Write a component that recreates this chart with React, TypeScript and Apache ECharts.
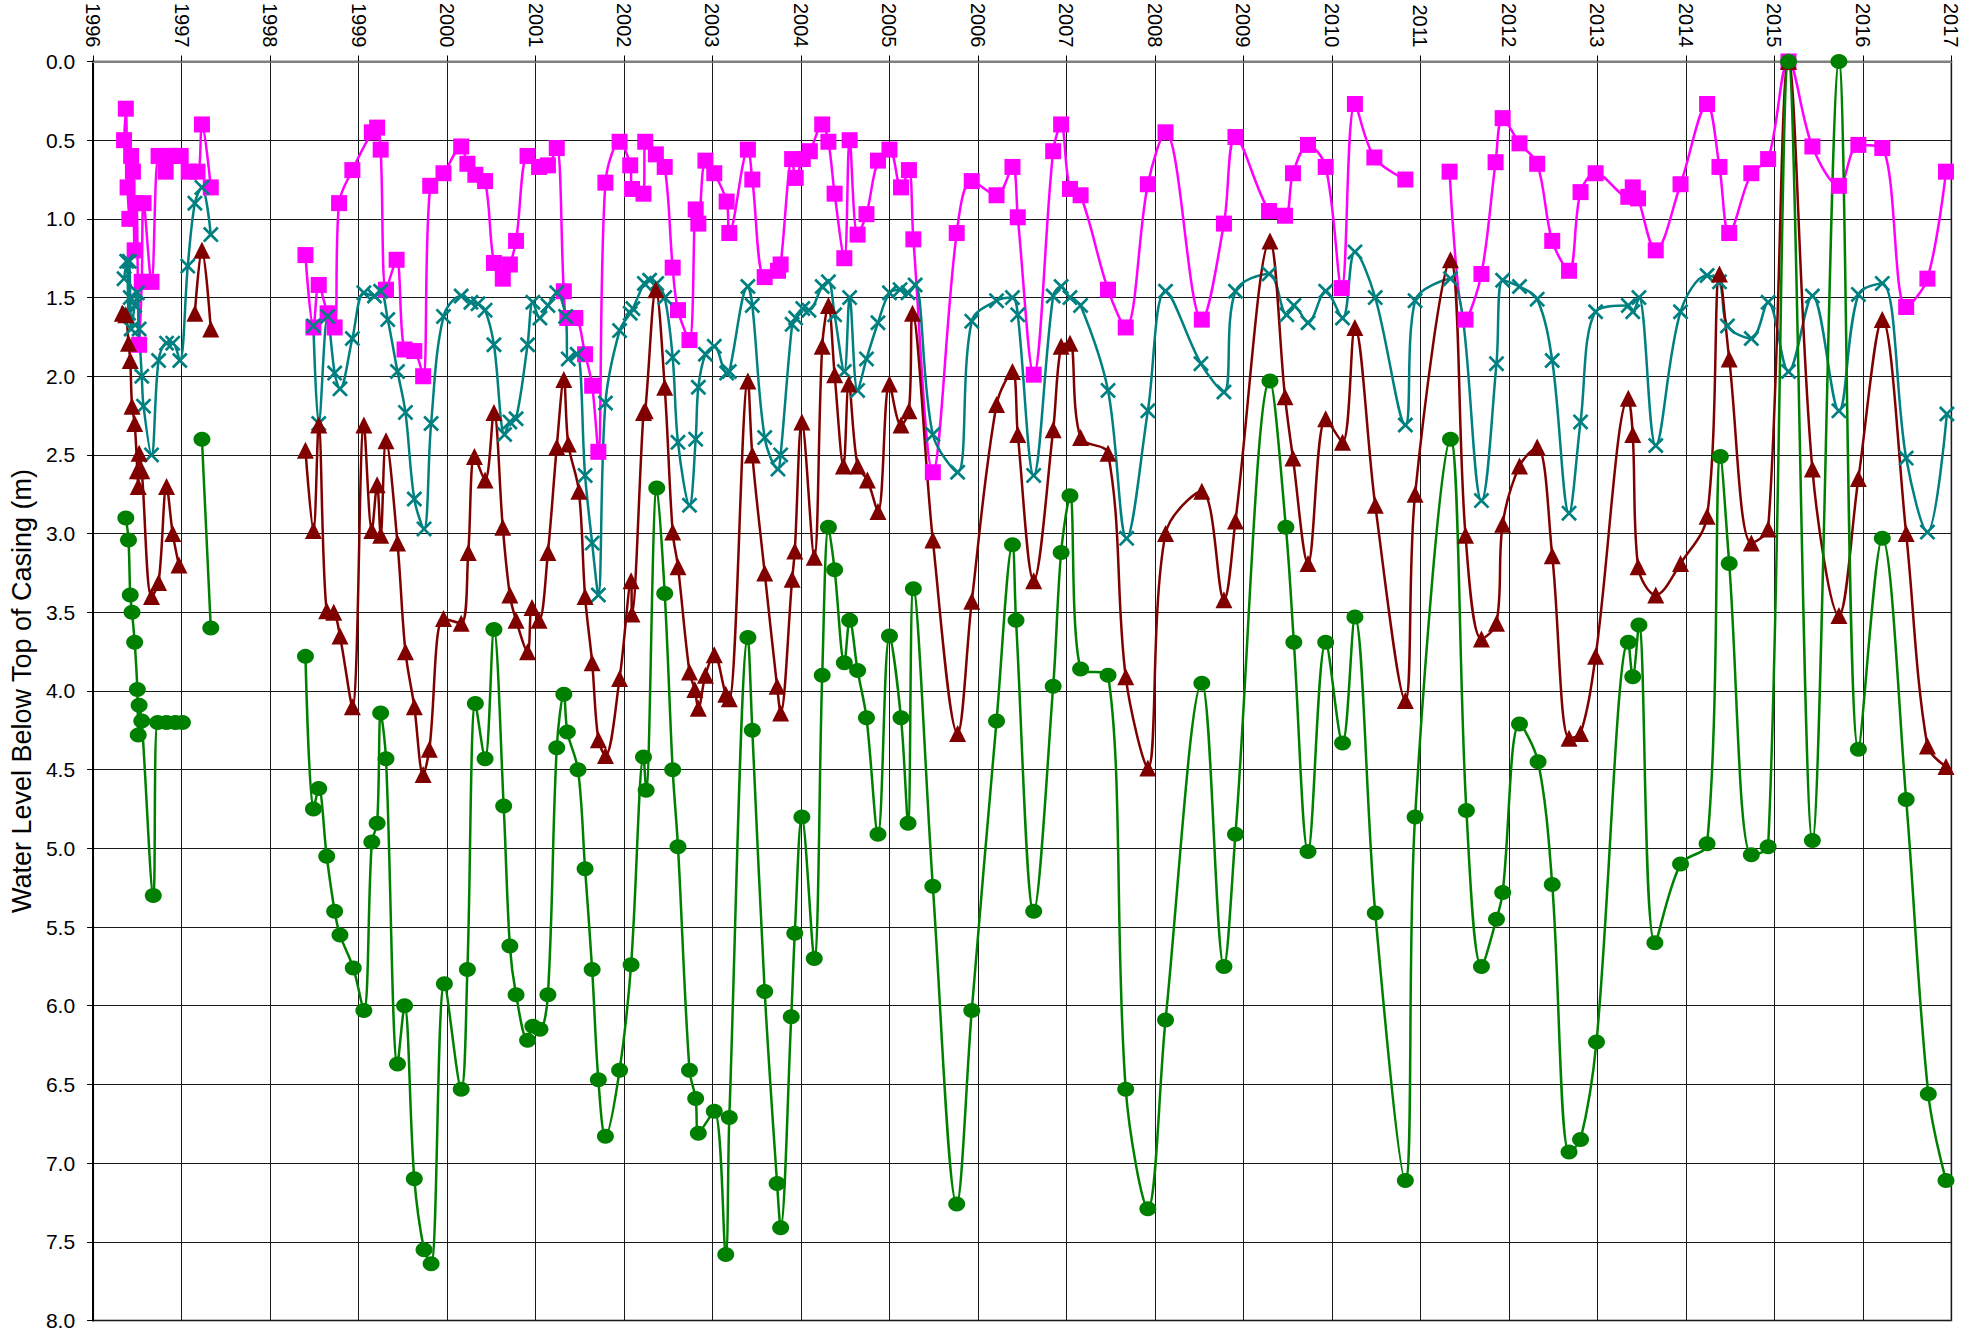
import React, { useEffect, useRef } from "react";
import * as echarts from "echarts";

// ---- Data (decimal year, water level below top of casing in m) ----
const pinkDates = [
  1996.35, 1996.37, 1996.39, 1996.41, 1996.43, 1996.45, 1996.47, 1996.49, 1996.52, 1996.55, 1996.57, 1996.66, 1996.74, 1996.82, 1996.86, 1996.93, 1996.99,
  1997.08, 1997.18, 1997.23, 1997.33, 1997.8,
  1998.40, 1998.49, 1998.55, 1998.65, 1998.73, 1998.78, 1998.93, 1999.15, 1999.21, 1999.25, 1999.31, 1999.43, 1999.52, 1999.63, 1999.73, 1999.81, 1999.96,
  2000.16, 2000.23, 2000.32, 2000.43, 2000.53, 2000.63, 2000.71, 2000.78, 2000.91, 2001.04, 2001.14, 2001.24, 2001.32, 2001.36, 2001.45, 2001.56, 2001.64, 2001.71, 2001.79, 2001.95,
  2002.07, 2002.09, 2002.22, 2002.24, 2002.36, 2002.46, 2002.55, 2002.61, 2002.74, 2002.81, 2002.84, 2002.92, 2003.02, 2003.16, 2003.19, 2003.40, 2003.45, 2003.59, 2003.74, 2003.77, 2003.90, 2003.94,
  2004.02, 2004.10, 2004.24, 2004.31, 2004.38, 2004.49, 2004.55, 2004.64, 2004.74, 2004.87, 2005.00, 2005.13, 2005.22, 2005.27, 2005.49, 2005.76, 2005.93,
  2006.21, 2006.39, 2006.45, 2006.63, 2006.85, 2006.94, 2007.04, 2007.16, 2007.47, 2007.67, 2007.92, 2008.12, 2008.53, 2008.78, 2008.91, 2009.29, 2009.47, 2009.56, 2009.73, 2009.93, 2010.11, 2010.26, 2010.48, 2010.83, 2011.1,
  2011.33, 2011.51, 2011.69, 2011.85, 2011.93, 2012.12, 2012.32, 2012.49, 2012.68, 2012.81, 2012.98, 2013.35, 2013.40, 2013.46, 2013.66, 2013.94, 2014.24, 2014.38, 2014.49, 2014.74, 2014.93, 2015.16, 2015.43, 2015.73, 2015.95, 2016.22, 2016.49, 2016.73, 2016.94,
];
const pinkLevels = [
  0.50, 0.30, 0.80, 1.00, 0.60, 0.70, 1.20, 0.90, 1.80, 1.40, 0.90, 1.40, 0.60, 0.70, 0.60, 0.60, 0.60,
  0.70, 0.70, 0.40, 0.80, null,
  1.23, 1.69, 1.42, 1.60, 1.69, 0.90, 0.69, 0.45, 0.42, 0.56, 1.45, 1.26, 1.83, 1.84, 2.00, 0.79, 0.71,
  0.54, 0.65, 0.72, 0.76, 1.28, 1.38, 1.29, 1.14, 0.60, 0.67, 0.66, 0.55, 1.46, 1.63, 1.63, 1.86, 2.06, 2.48, 0.77, 0.51,
  0.66, 0.81, 0.84, 0.51, 0.59, 0.67, 1.31, 1.58, 1.77, 0.94, 1.03, 0.63, 0.71, 0.89, 1.09, 0.56, 0.75, 1.37, 1.33, 1.29, 0.62, 0.74,
  0.62, 0.57, 0.40, 0.51, 0.84, 1.25, 0.50, 1.10, 0.97, 0.63, 0.56, 0.80, 0.69, 1.13, 2.61, 1.09, 0.76,
  0.85, 0.67, 0.99, 1.99, 0.57, 0.40, 0.81, 0.85, 1.45, 1.69, 0.78, 0.45, 1.64, 1.03, 0.48, 0.95, 0.98, 0.71, 0.53, 0.67, 1.44, 0.27, 0.61, 0.75, null,
  0.70, 1.64, 1.35, 0.64, 0.36, 0.52, 0.65, 1.14, 1.33, 0.83, 0.71, 0.86, 0.80, 0.87, 1.20, 0.78, 0.27, 0.67, 1.09, 0.71, 0.62, 0.00, 0.54, 0.79, 0.53, 0.55, 1.56, 1.38, 0.70,
];

const tealDates = [
  1996.35, 1996.38, 1996.40, 1996.41, 1996.42, 1996.43, 1996.47, 1996.50, 1996.52, 1996.55, 1996.57, 1996.66, 1996.74, 1996.83, 1996.90, 1996.98,
  1997.07, 1997.15, 1997.23, 1997.33, 1997.8,
  1998.49, 1998.55, 1998.65, 1998.73, 1998.79, 1998.93, 1999.06, 1999.18, 1999.25, 1999.33, 1999.44, 1999.53, 1999.63, 1999.74, 1999.82, 1999.96,
  2000.16, 2000.27, 2000.35, 2000.43, 2000.53, 2000.65, 2000.71, 2000.78, 2000.91, 2000.97, 2001.05, 2001.14, 2001.24, 2001.34, 2001.37, 2001.47, 2001.56, 2001.64, 2001.71, 2001.79, 2001.95,
  2002.07, 2002.10, 2002.23, 2002.29, 2002.37, 2002.46, 2002.55, 2002.61, 2002.74, 2002.81, 2002.84, 2002.92, 2003.02, 2003.16, 2003.19, 2003.40, 2003.45, 2003.59, 2003.74, 2003.77, 2003.90, 2003.94,
  2004.02, 2004.09, 2004.24, 2004.31, 2004.38, 2004.49, 2004.55, 2004.64, 2004.74, 2004.87, 2005.00, 2005.12, 2005.21, 2005.29, 2005.49, 2005.77, 2005.93,
  2006.21, 2006.39, 2006.45, 2006.63, 2006.85, 2006.94, 2007.04, 2007.16, 2007.47, 2007.68, 2007.92, 2008.12, 2008.52, 2008.78, 2008.91, 2009.29, 2009.49, 2009.57, 2009.73, 2009.93, 2010.12, 2010.26, 2010.49, 2010.83, 2010.94, 2011.34, 2011.69, 2011.86, 2011.93,
  2012.12, 2012.32, 2012.49, 2012.68, 2012.81, 2012.98, 2013.35, 2013.40, 2013.47, 2013.66, 2013.94, 2014.24, 2014.38, 2014.47, 2014.74, 2014.93, 2015.16, 2015.43, 2015.73, 2015.95, 2016.22, 2016.49, 2016.73, 2016.95,
];
const tealLevels = [
  1.38, 1.27, 1.60, 1.27, 1.50, 1.70, 1.55, 1.47, 1.70, 2.00, 2.19, 2.50, 1.90, 1.79, 1.79, 1.90,
  1.30, 0.90, 0.80, 1.10, null,
  1.68, 2.30, 1.62, 1.98, 2.08, 1.76, 1.47, 1.49, 1.46, 1.64, 1.97, 2.23, 2.78, 2.97, 2.30, 1.62,
  1.49, 1.53, 1.54, 1.58, 1.80, 2.37, 2.29, 2.27, 1.80, 1.53, 1.63, 1.55, 1.47, 1.62, 1.89, 1.86, 2.63, 3.06, 3.39, 2.17, 1.71,
  1.60, 1.57, 1.41, 1.39, 1.41, 1.50, 1.88, 2.42, 2.82, 2.40, 2.07, 1.86, 1.81, 1.98, 1.97, 1.43, 1.55, 2.39, 2.59, 2.50, 1.67, 1.63,
  1.57, 1.58, 1.43, 1.40, 1.61, 1.97, 1.50, 2.09, 1.89, 1.66, 1.47, 1.45, 1.47, 1.42, 2.37, 2.61, 1.65,
  1.52, 1.50, 1.61, 2.63, 1.49, 1.43, 1.50, 1.55, 2.09, 3.03, 2.22, 1.46, 1.92, 2.10, 1.46, 1.35, 1.61, 1.55, 1.66, 1.46, 1.63, 1.21, 1.50, 2.31, 1.52, 1.38, 2.79, 1.92, 1.39,
  1.43, 1.51, 1.90, 2.87, 2.29, 1.59, 1.55, 1.59, 1.50, 2.44, 1.59, 1.36, 1.40, 1.68, 1.76, 1.53, 1.97, 1.49, 2.22, 1.48, 1.41, 2.52, 2.99, 2.24,
];

const redDates = [
  1996.33, 1996.37, 1996.40, 1996.42, 1996.44, 1996.47, 1996.50, 1996.51, 1996.52, 1996.55, 1996.66, 1996.74, 1996.83, 1996.90, 1996.97,
  1997.07, 1997.15, 1997.23, 1997.33, 1997.8,
  1998.40, 1998.49, 1998.55, 1998.64, 1998.72, 1998.79, 1998.93, 1999.06, 1999.15, 1999.21, 1999.25, 1999.31, 1999.44, 1999.53, 1999.63, 1999.73, 1999.80, 1999.96,
  2000.16, 2000.24, 2000.31, 2000.43, 2000.53, 2000.63, 2000.71, 2000.78, 2000.91, 2000.96, 2001.04, 2001.14, 2001.24, 2001.32, 2001.37, 2001.49, 2001.56, 2001.64, 2001.71, 2001.79, 2001.95,
  2002.08, 2002.09, 2002.22, 2002.24, 2002.36, 2002.46, 2002.55, 2002.61, 2002.74, 2002.80, 2002.84, 2002.92, 2003.02, 2003.15, 2003.19, 2003.40, 2003.45, 2003.59, 2003.73, 2003.77, 2003.90, 2003.93,
  2004.01, 2004.15, 2004.24, 2004.31, 2004.38, 2004.48, 2004.54, 2004.64, 2004.75, 2004.87, 2005.00, 2005.13, 2005.22, 2005.26, 2005.49, 2005.77, 2005.93,
  2006.21, 2006.39, 2006.45, 2006.63, 2006.85, 2006.94, 2007.04, 2007.16, 2007.47, 2007.67, 2007.92, 2008.12, 2008.53, 2008.78, 2008.91, 2009.30, 2009.47, 2009.56, 2009.73, 2009.93, 2010.12, 2010.26, 2010.49, 2010.83, 2010.94, 2011.34, 2011.51, 2011.69, 2011.86, 2011.93,
  2012.12, 2012.32, 2012.49, 2012.68, 2012.81, 2012.98, 2013.35, 2013.40, 2013.46, 2013.66, 2013.94, 2014.24, 2014.38, 2014.49, 2014.74, 2014.93, 2015.16, 2015.43, 2015.73, 2015.95, 2016.22, 2016.49, 2016.73, 2016.94,
];
const redLevels = [
  1.60, 1.61, 1.79, 1.90, 2.19, 2.30, 2.60, 2.70, 2.49, 2.60, 3.40, 3.31, 2.70, 3.00, 3.20,
  null, 1.60, 1.20, 1.70, null,
  2.47, 2.98, 2.31, 3.49, 3.50, 3.65, 4.10, 2.31, 2.98, 2.69, 3.01, 2.41, 3.06, 3.75, 4.10, 4.53, 4.37, 3.54,
  3.57, 3.12, 2.51, 2.66, 2.23, 2.96, 3.39, 3.55, 3.75, 3.47, 3.55, 3.12, 2.45, 2.02, 2.43, 2.73, 3.40, 3.82, 4.31, 4.41, 3.92,
  3.30, 3.51, 2.23, 2.22, 1.45, 2.07, 2.99, 3.21, 3.88, 3.99, 4.11, 3.90, 3.77, 4.02, 4.05, 2.03, 2.50, 3.25, 3.97, 4.14, 3.29, 3.11,
  2.29, 3.15, 1.81, 1.55, 1.99, 2.57, 2.05, 2.57, 2.66, 2.86, 2.05, 2.31, 2.22, 1.60, 3.04, 4.27, 3.43,
  2.18, 1.97, 2.37, 3.30, 2.34, 1.81, 1.79, 2.39, 2.49, 3.91, 4.49, 3.00, 2.73, 3.42, 2.92, 1.14, 2.13, 2.52, 3.19, 2.27, 2.42, 1.69, 2.82, 4.06, 2.75, 1.26, 3.01, 3.67, 3.57, 2.94,
  2.57, 2.45, 3.14, 4.30, 4.27, 3.78, 2.14, 2.37, 3.21, 3.39, 3.19, 2.89, 1.35, 1.89, 3.06, 2.97, 0.00, 2.59, 3.52, 2.65, 1.64, 3.00, 4.35, 4.48,
];

const greenDates = [
  1996.37, 1996.40, 1996.42, 1996.44, 1996.47, 1996.50, 1996.51, 1996.52, 1996.55, 1996.68, 1996.73, 1996.83, 1996.93, 1997.01,
  1997.07, 1997.23, 1997.33, 1997.8,
  1998.40, 1998.49, 1998.55, 1998.64, 1998.73, 1998.79, 1998.94, 1999.06, 1999.15, 1999.21, 1999.25, 1999.31, 1999.44, 1999.52, 1999.63, 1999.74, 1999.82, 1999.97,
  2000.16, 2000.23, 2000.32, 2000.43, 2000.53, 2000.64, 2000.71, 2000.78, 2000.91, 2000.97, 2001.05, 2001.14, 2001.24, 2001.32, 2001.36, 2001.48, 2001.56, 2001.64, 2001.71, 2001.79, 2001.95,
  2002.08, 2002.22, 2002.25, 2002.37, 2002.46, 2002.55, 2002.61, 2002.74, 2002.81, 2002.84, 2003.02, 2003.15, 2003.19, 2003.40, 2003.45, 2003.59, 2003.73, 2003.77, 2003.89, 2003.93,
  2004.01, 2004.15, 2004.24, 2004.31, 2004.38, 2004.49, 2004.55, 2004.64, 2004.74, 2004.87, 2005.00, 2005.13, 2005.21, 2005.27, 2005.49, 2005.76, 2005.93,
  2006.21, 2006.39, 2006.43, 2006.63, 2006.85, 2006.94, 2007.04, 2007.16, 2007.47, 2007.67, 2007.92, 2008.12, 2008.53, 2008.78, 2008.91, 2009.30, 2009.48, 2009.57, 2009.73, 2009.93, 2010.12, 2010.26, 2010.49, 2010.83, 2010.94, 2011.34, 2011.52, 2011.69, 2011.86, 2011.93,
  2012.12, 2012.33, 2012.49, 2012.68, 2012.81, 2012.99, 2013.35, 2013.40, 2013.47, 2013.65, 2013.94, 2014.24, 2014.39, 2014.49, 2014.74, 2014.93, 2015.16, 2015.43, 2015.73, 2015.95, 2016.22, 2016.49, 2016.74, 2016.94,
];
const greenLevels = [
  2.90, 3.04, 3.39, 3.50, 3.69, 3.99, 4.28, 4.09, 4.19, 5.30, 4.20, 4.20, 4.20, 4.20,
  null, 2.40, 3.60, null,
  3.78, 4.75, 4.62, 5.05, 5.40, 5.55, 5.76, 6.03, 4.96, 4.84, 4.14, 4.43, 6.37, 6.00, 7.10, 7.55, 7.64, 5.86,
  6.53, 5.77, 4.08, 4.43, 3.61, 4.73, 5.62, 5.93, 6.22, 6.13, 6.15, 5.93, 4.36, 4.02, 4.26, 4.50, 5.13, 5.77, 6.47, 6.83, 6.41,
  5.74, 4.42, 4.63, 2.71, 3.38, 4.50, 4.99, 6.41, 6.59, 6.81, 6.67, 7.58, 6.71, 3.66, 4.25, 5.91, 7.13, 7.41, 6.07, 5.54,
  4.80, 5.70, 3.90, 2.96, 3.23, 3.82, 3.55, 3.87, 4.17, 4.91, 3.65, 4.17, 4.84, 3.35, 5.24, 7.26, 6.03,
  4.19, 3.07, 3.55, 5.40, 3.97, 3.12, 2.76, 3.86, 3.90, 6.53, 7.29, 6.09, 3.95, 5.75, 4.91, 2.03, 2.96, 3.69, 5.02, 3.69, 4.33, 3.53, 5.41, 7.11, 4.80, 2.40, 4.76, 5.75, 5.45, 5.28,
  4.21, 4.45, 5.23, 6.93, 6.85, 6.23, 3.69, 3.91, 3.58, 5.60, 5.10, 4.97, 2.51, 3.19, 5.04, 4.99, 0.00, 4.95, 0.00, 4.37, 3.03, 4.69, 6.56, 7.11,
];

const yearMin = 1996;
const yearMax = 2017;
const levelMin = 0;
const levelMax = 8;
const levelStep = 0.5;
const yAxisTitle = "Water Level Below Top of Casing (m)";

const FONT = "'Liberation Sans', Arial, sans-serif";
const X_MARK = "path://M0,1.2 L1.2,0 L5,3.8 L8.8,0 L10,1.2 L6.2,5 L10,8.8 L8.8,10 L5,6.2 L1.2,10 L0,8.8 L3.8,5 Z";

function pairs(dates: number[], levels: (number | null)[]) {
  return dates.map((d, i) => [d, levels[i] === null ? null : levels[i]]);
}

function lineSeries(name: string, data: any[], color: string, symbol: string, size: any) {
  return {
    name,
    type: "line",
    data,
    smooth: 0.35,
    connectNulls: false,
    symbol,
    symbolSize: size,
    symbolKeepAspect: true,
    showSymbol: true,
    lineStyle: { color, width: 2.5 },
    itemStyle: { color, borderWidth: 0 },
    emphasis: { disabled: true },
    silent: true,
    clip: false,
  };
}

export default function App() {
  const ref = useRef<HTMLDivElement>(null);
  useEffect(() => {
    if (!ref.current) return;
    const chart = echarts.init(ref.current, null, { renderer: "svg" });
    chart.setOption({
      animation: false,
      backgroundColor: "#ffffff",
      grid: {
        left: 83.4,
        right: 23.7,
        top: 61,
        bottom: 9,
        show: true,
        borderColor: "#808080",
        borderWidth: 2,
        backgroundColor: "#ffffff",
      },
      xAxis: {
        type: "value",
        position: "top",
        min: yearMin,
        max: yearMax,
        interval: 1,
        axisLine: { show: true, onZero: false, lineStyle: { color: "#808080", width: 2 } },
        axisTick: { show: true, length: 6, lineStyle: { color: "#000", width: 1 } },
        axisLabel: {
          rotate: 90,
          margin: 14,
          fontSize: 20,
          color: "#000",
          fontFamily: FONT,
          formatter: (v: number) => String(Math.round(v)),
        },
        splitLine: { show: true, lineStyle: { color: "#1a1a1a", width: 1 } },
      },
      yAxis: {
        type: "value",
        inverse: true,
        min: levelMin,
        max: levelMax,
        interval: levelStep,
        name: yAxisTitle,
        nameLocation: "middle",
        nameGap: 58,
        nameTextStyle: { fontSize: 27, color: "#000", fontFamily: FONT },
        axisLine: { show: true, onZero: false, lineStyle: { color: "#000", width: 2 } },
        axisTick: { show: true, length: 6, lineStyle: { color: "#000", width: 1 } },
        axisLabel: {
          margin: 18,
          fontSize: 21,
          color: "#000",
          fontFamily: FONT,
          formatter: (v: number) => v.toFixed(1),
        },
        splitLine: { show: true, lineStyle: { color: "#1a1a1a", width: 1 } },
      },
      series: [
        lineSeries("Well A", pairs(pinkDates, pinkLevels), "#FF00FF", "rect", 16),
        lineSeries("Well B", pairs(tealDates, tealLevels), "#008080", X_MARK, 16),
        lineSeries("Well C", pairs(redDates, redLevels), "#800000", "triangle", 17),
        lineSeries("Well D", pairs(greenDates, greenLevels), "#008000", "circle", [17, 15]),
      ],
    });
    return () => chart.dispose();
  }, []);
  return (
    <div
      ref={ref}
      style={{ position: "fixed", left: 0, top: 0, width: 1975, height: 1331, background: "#fff" }}
    />
  );
}
